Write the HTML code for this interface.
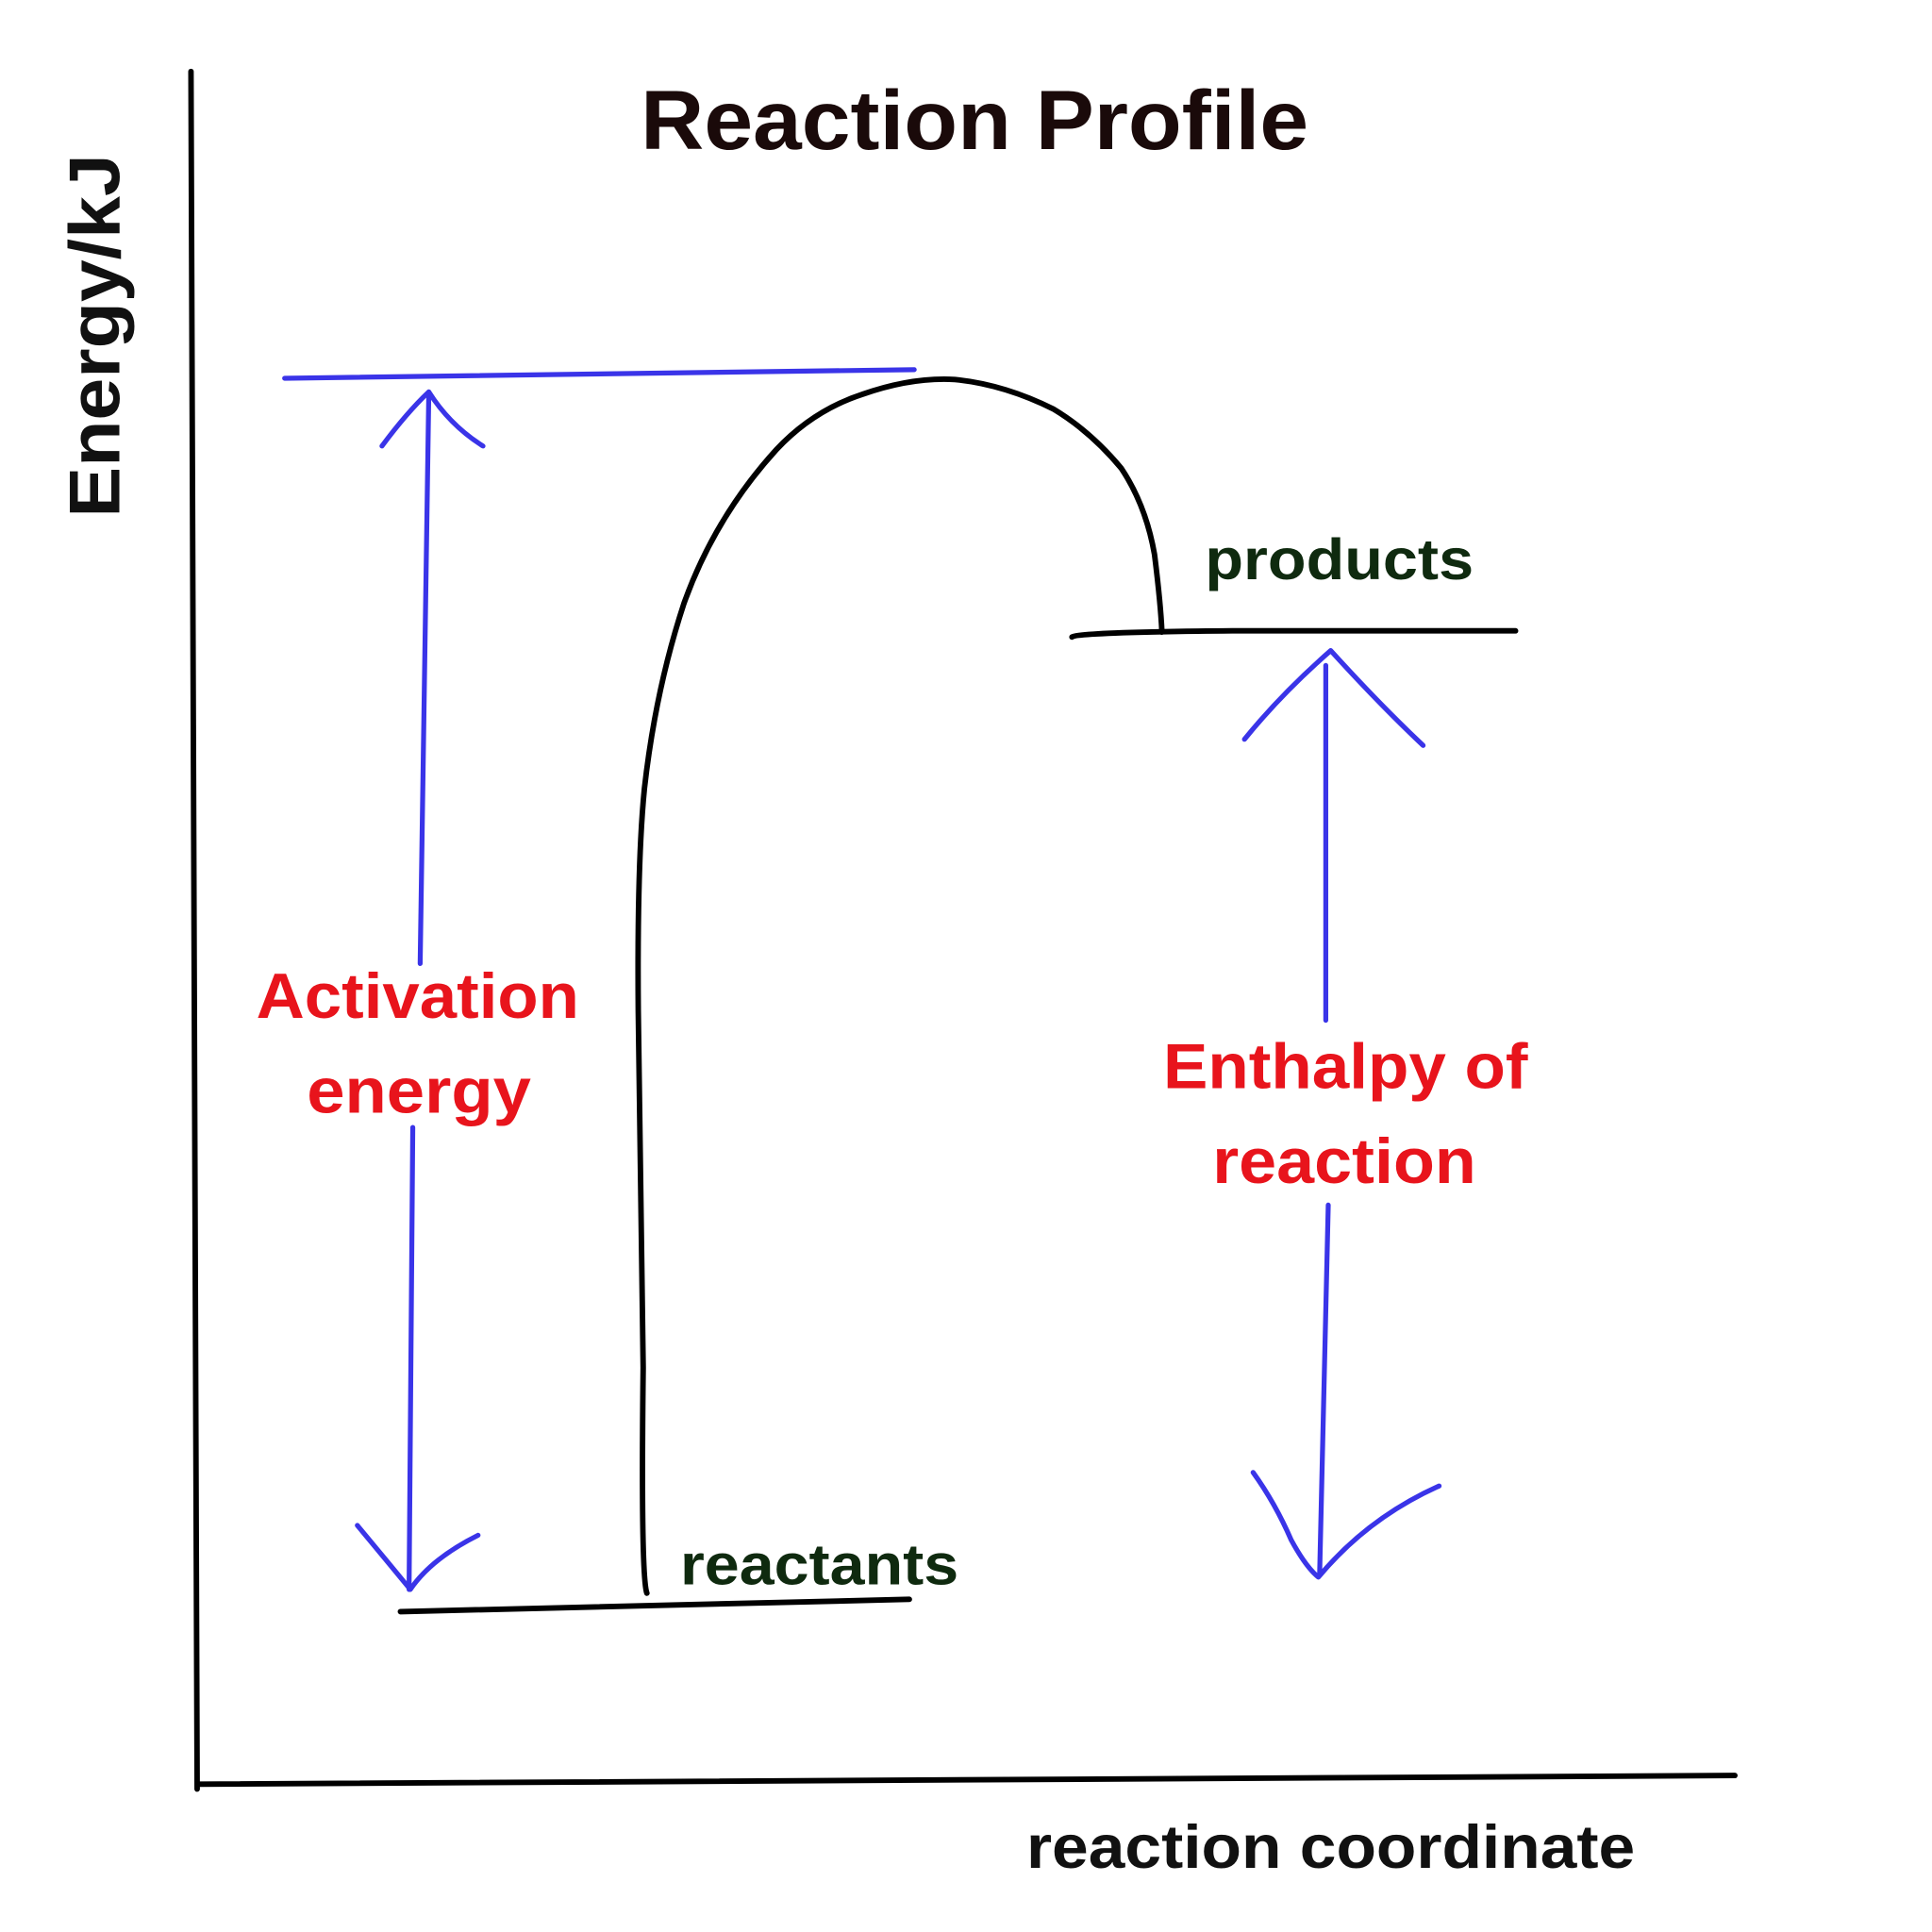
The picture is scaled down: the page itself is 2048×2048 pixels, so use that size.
<!DOCTYPE html>
<html><head><style>html,body{margin:0;padding:0;background:#fff}svg{display:block}</style></head>
<body>
<svg width="2048" height="2048" viewBox="0 0 1568 1568" xmlns="http://www.w3.org/2000/svg">
<rect width="1568" height="1568" fill="#fff"/>
<g font-family="Liberation Sans, sans-serif" font-weight="bold" lengthAdjust="spacingAndGlyphs">
<text x="520" y="121" font-size="68" textLength="542" lengthAdjust="spacingAndGlyphs" fill="#1a0a0a">Reaction Profile</text>
<text transform="translate(97,420) rotate(-90)" font-size="58" textLength="295" lengthAdjust="spacingAndGlyphs" fill="#111">Energy/kJ</text>
<text x="208" y="826" font-size="52" textLength="262" lengthAdjust="spacingAndGlyphs" fill="#e8141c">Activation</text>
<text x="249" y="903" font-size="52" textLength="182" lengthAdjust="spacingAndGlyphs" fill="#e8141c">energy</text>
<text x="944" y="883" font-size="52" textLength="296" lengthAdjust="spacingAndGlyphs" fill="#e8141c">Enthalpy of</text>
<text x="984" y="960" font-size="52" textLength="214" lengthAdjust="spacingAndGlyphs" fill="#e8141c">reaction</text>
<text x="978" y="470" font-size="47" textLength="218" lengthAdjust="spacingAndGlyphs" fill="#0f2a0f">products</text>
<text x="552" y="1286" font-size="47" textLength="226" lengthAdjust="spacingAndGlyphs" fill="#0f2a0f">reactants</text>
<text x="833" y="1516" font-size="50" textLength="494" lengthAdjust="spacingAndGlyphs" fill="#111">reaction coordinate</text>
</g>
<g fill="none" stroke="#000" stroke-width="4.5" stroke-linecap="round">
<path d="M155 58 L160 1452"/>
<path d="M162 1448 L1408 1441"/>
<path d="M870 517 Q875 513 1000 512 L1230 512"/>
<path d="M325 1308 L738 1298"/>
<path d="M525 1293 Q520 1280 522 1110 L518 820 Q517 700 523 640 Q532 560 555 490 Q580 420 630 365 Q660 333 700 320 Q740 306 775 308 Q815 312 855 332 Q885 350 910 380 Q930 410 937 450 Q942 490 943 513"/>
</g>
<g fill="none" stroke="#3a34e8" stroke-width="4" stroke-linecap="round" stroke-linejoin="round">
<path d="M231 307 L742 300"/>
<path d="M348 320 L341 782"/>
<path d="M310 362 Q330 335 348 318 Q365 345 392 362"/>
<path d="M335 915 L332 1290"/>
<path d="M290 1238 Q310 1262 333 1290 Q350 1265 388 1246"/>
<path d="M1076 540 L1076 828"/>
<path d="M1010 600 Q1040 563 1080 528 Q1120 572 1155 605"/>
<path d="M1078 978 L1071 1278"/>
<path d="M1017 1195 Q1035 1220 1048 1250 Q1060 1272 1070 1280 Q1110 1232 1168 1206"/>
</g>
</svg>
</body></html>
